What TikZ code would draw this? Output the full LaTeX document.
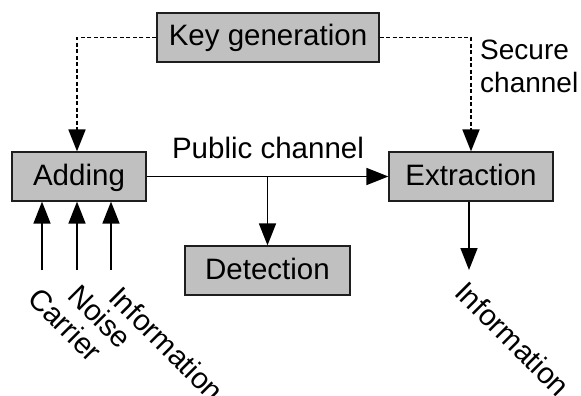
\documentclass[tikz,border=0pt]{standalone}
\usepackage{fontspec}
\setmainfont{Liberation Sans}
\usetikzlibrary{arrows.meta}
\definecolor{boxfill}{RGB}{192,192,192}
\definecolor{boxline}{RGB}{30,30,30}
\tikzset{
  blk/.style={draw=boxline, fill=boxfill, line width=1.2pt, inner sep=0pt,
    minimum height=49pt, text height=21pt, text depth=4pt,
    font=\fontsize{29.5}{34}\selectfont},
  conn/.style={line width=1.6pt, -{Triangle[length=22pt,width=17pt]}},
  secure/.style={conn, line width=1.8pt, dash pattern=on 4pt off 2.5pt},
  lbl/.style={inner sep=0pt, font=\fontsize{29.5}{33}\selectfont},
  rlbl/.style={lbl, rotate=-45, anchor=base west}
}
\begin{document}
\begin{tikzpicture}[x=1pt,y=-1pt]
\useasboundingbox (0,0) rectangle (581,396);
\node[blk, minimum width=222pt] (kg) at (268,37.5) {Key generation};
\node[blk, minimum width=134pt] (add) at (79,176.5) {Adding};
\node[blk, minimum width=164pt] (ext) at (471,176.5) {Extraction};
\node[blk, minimum width=165pt] (det) at (267.5,270.5) {Detection};

\node[lbl, anchor=base] (pub) at (268,158) {Public channel};
\node[lbl, anchor=north west, align=left, font=\fontsize{28}{33}\selectfont] (sec) at (480,40) {Secure\\channel};

\draw[secure] (kg.west) -| ([xshift=-2pt]add.north);
\draw[secure] (kg.east) -| (ext.north);

\draw[conn] (add.east) -- (ext.west);
\draw[conn] (det.north |- add.east) -- (det.north);

\coordinate (c1) at (42,270);
\coordinate (c2) at (77,270);
\coordinate (c3) at (111,270);
\coordinate (o1) at (469,270);
\draw[conn] (c1) -- (c1 |- add.south);
\draw[conn] (c2) -- (c2 |- add.south);
\draw[conn] (c3) -- (c3 |- add.south);
\draw[conn] ([xshift=-2pt]ext.south) -- (o1);

\node[rlbl] (lc) at (26,300) {Carrier};
\node[rlbl] (ln) at (66,297) {Noise};
\node[rlbl] (li) at (107,299) {Information};
\node[rlbl] (ri) at (453,294) {Information};
\end{tikzpicture}
\end{document}
